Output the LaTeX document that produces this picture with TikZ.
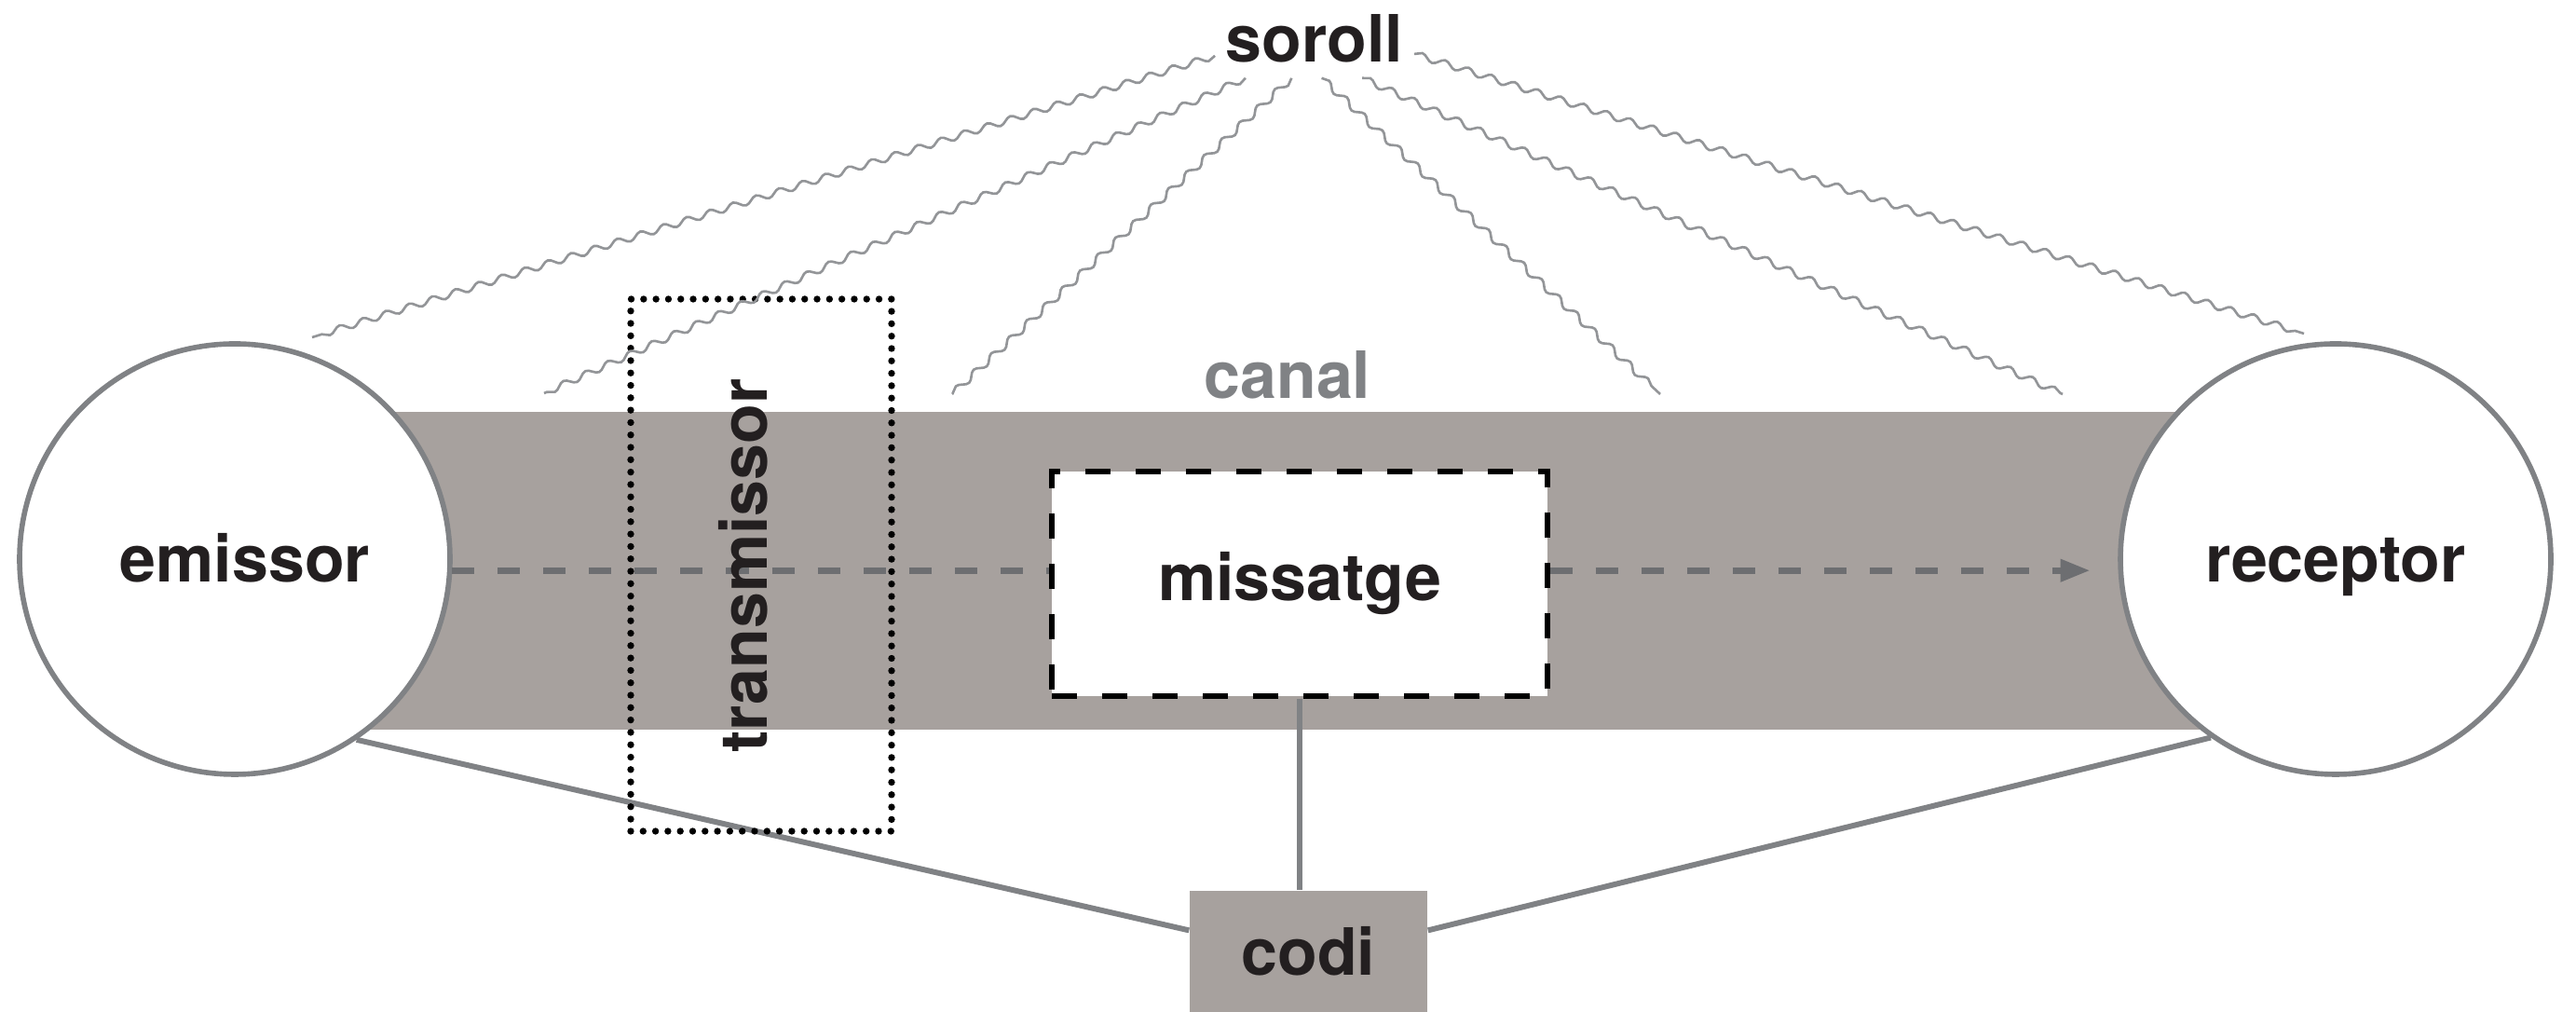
\documentclass[tikz,border=0pt]{standalone}
\usepackage{fontspec}
\setmainfont{TeX Gyre Heros}
\usetikzlibrary{arrows.meta,decorations.pathmorphing}

\definecolor{ringgray}{HTML}{808285}
\definecolor{bandgray}{HTML}{A7A19E}
\definecolor{flowgray}{HTML}{6D6E71}
\definecolor{noisegray}{HTML}{939598}
\definecolor{inkblack}{HTML}{231F20}

\tikzset{
  word/.style={font=\fontsize{19.9}{24}\selectfont\bfseries, text=inkblack},
  person/.style={word, circle, draw=ringgray, line width=1.6pt, fill=white,
    minimum size=4.62cm, inner sep=0pt, text height=0.5cm, text depth=0cm},
  msgbox/.style={word, draw=black, line width=1.6pt, dash pattern=on 0.27cm off 0.27cm,
    fill=white, minimum width=5.32cm, minimum height=2.41cm, inner sep=0pt},
  dotbox/.style={draw=black, line width=2.1pt, line cap=round, dash pattern=on 0pt off 0.133cm,
    minimum width=2.80cm, minimum height=5.71cm, inner sep=0pt},
  codebox/.style={word, fill=bandgray, minimum width=2.55cm, minimum height=1.30cm, inner sep=0pt},
  flow/.style={draw=flowgray, line width=2pt, dash pattern=on 0.24cm off 0.25cm},
  link/.style={draw=ringgray, line width=1.7pt},
  noise/.style={draw=noisegray, line width=0.75pt,
    decorate, decoration={snake, segment length=0.26cm, amplitude=0.035cm}}
}

\begin{document}
\begin{tikzpicture}
\useasboundingbox (0,0) rectangle (27.65,10.86);

\fill[bandgray] (2.52,3.03) rectangle (25.07,6.44);

\node[person] (emissor) at (2.52,4.86) {\hspace{0.22cm}emissor};
\node[person] (receptor) at (25.07,4.86) {receptor};
\node[msgbox] (missatge) at (13.95,4.595) {missatge};
\node[codebox] (codi) at (14.045,0.65) {codi};

\draw[link] (emissor.-56) -- (codi.170);
\draw[link] (receptor.235) -- (codi.10);
\draw[link] (missatge.south) -- (missatge.south |- codi.north);

\draw[flow] (emissor.-3) -- (missatge.west |- emissor.-3);
\draw[flow, -{Triangle[length=0.32cm,width=0.23cm]}, shorten >=0.3cm]
  (missatge.east |- emissor.-3) -- (receptor.183);

\node[dotbox] (transmissor) at (8.17,4.795) {};
\node[word, rotate=90] (transmissorlabel) at (7.98,4.79) {transmissor};

\node[word, text=ringgray] (canal) at (13.82,6.84) {canal};

\node[word, inner xsep=0.117cm, inner ysep=0.17cm, outer sep=0pt] (soroll) at (14.11,10.45) {soroll};
\coordinate (nA) at (3.35,7.24);
\coordinate (nB) at (5.84,6.64);
\coordinate (nC) at (10.22,6.63);
\coordinate (nD) at (17.82,6.63);
\coordinate (nE) at (22.14,6.63);
\coordinate (nF) at (24.73,7.28);
\draw[noise] (soroll.190) -- (nA);
\draw[noise] (soroll.210) -- (nB);
\draw[noise] (soroll.240) -- (nC);
\draw[noise] (soroll.280) -- (nD);
\draw[noise] (soroll.320) -- (nE);
\draw[noise] (soroll.351) -- (nF);
\end{tikzpicture}
\end{document}
